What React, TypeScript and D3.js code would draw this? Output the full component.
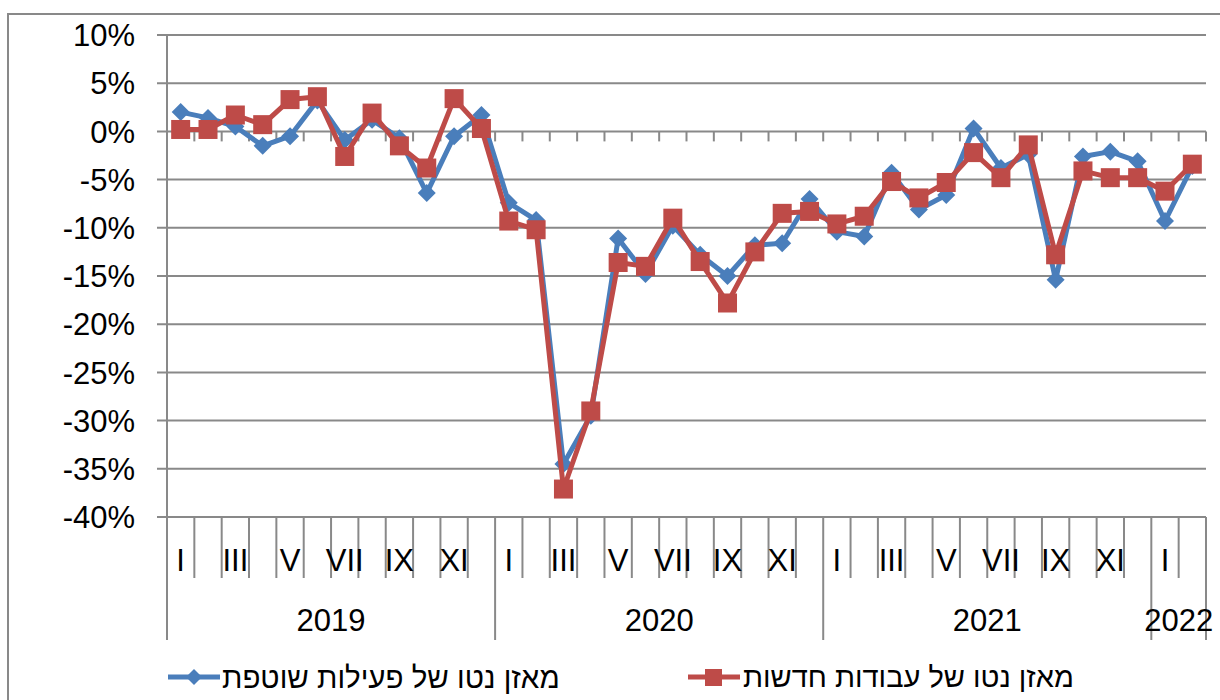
import React from 'react';
import * as d3 from 'd3';

// months Jan 2019 .. Feb 2022
const monthLabels = ['I', 'II', 'III', 'IV', 'V', 'VI', 'VII', 'VIII', 'IX', 'X', 'XI', 'XII'];
const years = ['2019', '2020', '2021', '2022'];
const monthsPerYear = [12, 12, 12, 2];
const yTicks = [10, 5, 0, -5, -10, -15, -20, -25, -30, -35, -40];

const ongoingActivity = [
  2.0, 1.4, 0.5, -1.5, -0.5, 3.2, -0.9, 1.2, -0.7, -6.4, -0.5, 1.7,
  -7.4, -9.2, -34.5, -29.5, -11.1, -14.8, -9.8, -12.8, -15.0, -11.8, -11.6, -7.0,
  -10.4, -10.9, -4.3, -8.1, -6.6, 0.3, -3.8, -2.4, -15.4, -2.6, -2.1, -3.1,
  -9.3, -3.6,
];
const newWorks = [
  0.2, 0.2, 1.7, 0.7, 3.3, 3.6, -2.6, 1.9, -1.5, -3.8, 3.4, 0.3,
  -9.3, -10.2, -37.1, -29.0, -13.6, -14.0, -9.0, -13.5, -17.8, -12.5, -8.5, -8.3,
  -9.6, -8.8, -5.2, -6.9, -5.3, -2.2, -4.8, -1.4, -12.8, -4.1, -4.8, -4.8,
  -6.2, -3.4,
];
const seriesNames = ['מאזן נטו של פעילות שוטפת', 'מאזן נטו של עבודות חדשות'];

const BLUE = '#4A7EBB';
const RED = '#BE4B48';
const GRID = '#898989';
const FONT = '"Liberation Sans", Arial, sans-serif';

const diamond = (r: number) => `M0,${-r}L${r},0L0,${r}L${-r},0Z`;

const App: React.FC = () => {
  const left = 167, right = 1206, top = 35, bottom = 517;

  const cats = years.flatMap((y, yi) =>
    d3.range(monthsPerYear[yi]).map((m) => `${y}-${m}`)
  );

  const x = d3.scaleBand().domain(cats).range([left, right]);
  const y = d3.scaleLinear().domain([-40, 10]).range([bottom, top]);
  const cx = (i: number) => (x(cats[i]) || 0) + x.bandwidth() / 2;

  const line = d3.line<number>().x((_, i) => cx(i)).y((d) => y(d));

  // year boundaries
  let acc = 0;
  const yearSpans = years.map((yr, yi) => {
    const start = acc;
    acc += monthsPerYear[yi];
    return { yr, start, end: acc };
  });
  const edge = (i: number) => (i >= cats.length ? right : x(cats[i]) || 0);

  return (
    <svg width={1220} height={700} style={{ position: 'absolute', left: 0, top: 0 }}>
      <rect x={8} y={14} width={1240} height={720} fill="white" stroke={GRID} strokeWidth={2} />

      {/* gridlines */}
      {yTicks.map((t) => (
        <g key={t}>
          <line x1={left - 10} x2={right} y1={y(t)} y2={y(t)} stroke={GRID} strokeWidth={2} />
          <text x={135} y={y(t)} dy="0.36em" textAnchor="end" fontFamily={FONT} fontSize={31} fill="#000">
            {`${t}%`}
          </text>
        </g>
      ))}
      <line x1={left} x2={left} y1={top} y2={bottom} stroke={GRID} strokeWidth={2} />

      {/* ticks on zero line */}
      {d3.range(1, cats.length + 1).map((i) => (
        <line key={'zt' + i} x1={edge(i)} x2={edge(i)} y1={y(0)} y2={y(0) + 10} stroke={GRID} strokeWidth={2} />
      ))}

      {/* category box under plot */}
      {d3.range(0, cats.length + 1).map((i) => {
        const isYear = yearSpans.some((s) => s.start === i) || i === cats.length;
        return (
          <line key={'ct' + i} x1={edge(i)} x2={edge(i)} y1={bottom} y2={isYear ? 640 : 578} stroke={GRID} strokeWidth={2} />
        );
      })}
      {yearSpans.map((s) =>
        d3.range(s.start, s.end).map((i) => {
          const m = i - s.start;
          if (m % 2 !== 0) return null;
          return (
            <text key={'ml' + i} x={cx(i)} y={560} dy="0.36em" textAnchor="middle" fontFamily={FONT} fontSize={31} fill="#000">
              {monthLabels[m]}
            </text>
          );
        })
      )}
      {yearSpans.map((s) => (
        <text key={'yl' + s.yr} x={(edge(s.start) + edge(s.end)) / 2} y={620} dy="0.36em" textAnchor="middle" fontFamily={FONT} fontSize={31} fill="#000">
          {s.yr}
        </text>
      ))}

      {/* series */}
      <path d={line(ongoingActivity) || ''} fill="none" stroke={BLUE} strokeWidth={5} strokeLinejoin="round" />
      {ongoingActivity.map((v, i) => (
        <path key={'b' + i} d={diamond(9)} transform={`translate(${cx(i)},${y(v)})`} fill={BLUE} />
      ))}
      <path d={line(newWorks) || ''} fill="none" stroke={RED} strokeWidth={5} strokeLinejoin="round" />
      {newWorks.map((v, i) => (
        <rect key={'r' + i} x={cx(i) - 9.5} y={y(v) - 9.5} width={19} height={19} fill={RED} />
      ))}

      {/* legend */}
      <g transform="translate(0,677)">
        <line x1={168} x2={220} y1={0} y2={0} stroke={BLUE} strokeWidth={5} />
        <path d={diamond(8)} transform="translate(194,0)" fill={BLUE} />
        <text x={222} y={0} dy="0.36em" fontFamily={FONT} fontSize={29.5} fill="#000">{seriesNames[0]}</text>
        <line x1={688} x2={740} y1={0} y2={0} stroke={RED} strokeWidth={5} />
        <rect x={705} y={-8} width={17} height={17} fill={RED} />
        <text x={743} y={0} dy="0.36em" fontFamily={FONT} fontSize={29} fill="#000">{seriesNames[1]}</text>
      </g>
    </svg>
  );
};

export default App;
